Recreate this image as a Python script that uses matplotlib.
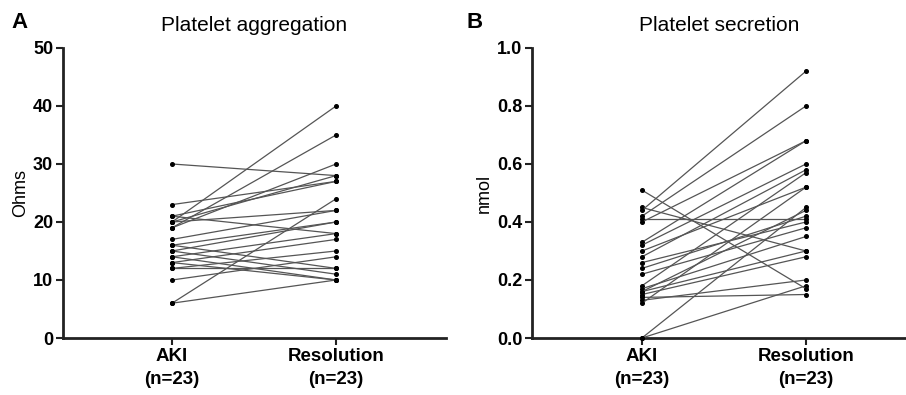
import numpy as np
import matplotlib
matplotlib.use("Agg")
import matplotlib.pyplot as plt

plt.rcParams['font.family'] = ['Liberation Sans', 'DejaVu Sans']

# groups on the x axis
groups = ['AKI\n(n=23)', 'Resolution\n(n=23)']

# panel A: platelet aggregation (Ohms), one pair per patient
aggr_aki = [30, 6, 6, 20, 19, 19, 23, 21, 20, 21, 17, 16, 15, 16, 15, 14, 13, 12, 14, 10, 12, 13, 20]
aggr_res = [28, 10, 24, 40, 35, 30, 27, 27, 22, 18, 22, 20, 20, 12, 11, 18, 17, 15, 10, 14, 12, 10, 28]

# panel B: platelet secretion (nmol)
secr_aki = [0.0, 0.0, 0.51, 0.45, 0.44, 0.42, 0.41, 0.40, 0.33, 0.32, 0.30, 0.28,
            0.26, 0.24, 0.22, 0.18, 0.17, 0.16, 0.15, 0.14, 0.13, 0.12, 0.16]
secr_res = [0.45, 0.18, 0.17, 0.30, 0.92, 0.80, 0.41, 0.68, 0.68, 0.60, 0.52, 0.58,
            0.40, 0.42, 0.38, 0.57, 0.35, 0.30, 0.28, 0.15, 0.20, 0.52, 0.44]

fig = plt.figure(figsize=(9.06, 3.95), dpi=100)
axA = fig.add_axes([0.0695, 0.1443, 0.4227, 0.7342])
axB = fig.add_axes([0.5872, 0.1443, 0.4128, 0.7342])

panels = [
    (axA, aggr_aki, aggr_res, 'Platelet aggregation', 'Ohms', (0, 50), np.arange(0, 51, 10), '%d', (-0.665, 1.67)),
    (axB, secr_aki, secr_res, 'Platelet secretion', 'nmol', (0, 1.0), np.arange(0, 1.01, 0.2), '%.1f', (-0.67, 1.61)),
]

for ax, aki, res, title, ylab, ylim, yt, fmt, xlim in panels:
    for a, r in zip(aki, res):
        ax.plot([0, 1], [a, r], color='#555555', lw=0.9, marker='o', ms=2.6,
                mfc='black', mec='black', clip_on=False, zorder=3)
    ax.set_xlim(*xlim)
    ax.set_ylim(*ylim)
    ax.set_yticks(yt)
    ax.set_yticklabels([fmt % v for v in yt], fontweight='bold', fontsize=13)
    ax.set_xticks([0, 1])
    ax.set_xticklabels(groups, fontweight='bold', fontsize=13.5, linespacing=1.45)
    ax.set_ylabel(ylab, fontsize=13, labelpad=3)
    ax.set_title(title, fontsize=15, pad=12)
    for s in ['top', 'right']:
        ax.spines[s].set_visible(False)
    for s in ['left', 'bottom']:
        ax.spines[s].set_linewidth(2)
        ax.spines[s].set_color('#222222')
    ax.tick_params(direction='out', length=5, width=1.5, color='#222222', pad=2)

fig.text(0.013, 0.93, 'A', fontsize=16, fontweight='bold')
fig.text(0.515, 0.93, 'B', fontsize=16, fontweight='bold')

fig.savefig('out.png', dpi=100)
